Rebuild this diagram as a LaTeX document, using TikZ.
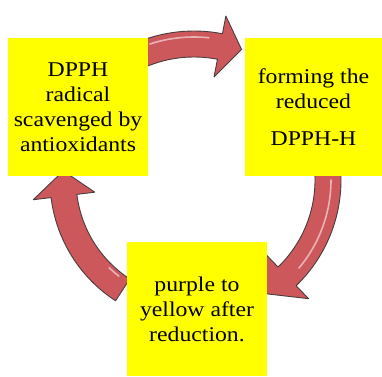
\documentclass[tikz,border=0pt]{standalone}
\usepackage{fontspec}
\setmainfont{Liberation Serif}
\newfontfamily\boxfont{Liberation Serif}[FakeStretch=1.13]
\usepackage{xcolor}
\usetikzlibrary{positioning}

\definecolor{arrowred}{RGB}{205,88,92}
\definecolor{arrowedge}{RGB}{72,62,62}
\definecolor{stepyellow}{RGB}{255,255,0}

\begin{document}
\begin{tikzpicture}[
  x=1pt, y=1pt,
  stepbox/.style={fill=stepyellow, inner sep=0pt,
                  minimum width=140pt, minimum height=138pt,
                  font=\boxfont\fontsize{21}{25}\selectfont, align=center},
  cycarrow/.style={fill=arrowred, draw=arrowedge, line width=0.9pt, line join=round},
  gloss/.style={draw=white, line width=1.6pt, opacity=0.55, line cap=round}
]
\useasboundingbox (0,0) rectangle (382,376);

% centre of the cycle
\coordinate (cyc) at (194,196);

% Curved arrows (drawn first, boxes cover their ends)
\begin{scope}[shift={(cyc)}]
  % top: box 1 -> box 2
  \draw[cycarrow] (114:149pt) arc[start angle=114, end angle=79, radius=149pt]
        -- (79:167pt) -- (70:139pt) -- (79:105pt) -- (79:123pt)
        arc[start angle=79, end angle=114, radius=123pt] -- cycle;
  \draw[gloss] (108:143pt) arc[start angle=108, end angle=84, radius=143pt];
  % right: box 2 -> box 3
  \draw[cycarrow] (5:147pt) arc[start angle=5, end angle=-46, radius=147pt]
        -- (-46:165pt) -- (-58:134pt) -- (-46:103pt) -- (-46:121pt)
        arc[start angle=-46, end angle=5, radius=121pt] -- cycle;
  \draw[gloss] (0:137pt) arc[start angle=0, end angle=-40, radius=137pt];
  % left: box 3 -> box 1
  \draw[cycarrow] (237:144pt) arc[start angle=237, end angle=187, radius=144pt]
        -- (187:162pt) -- (176:131pt) -- (187:100pt) -- (187:118pt)
        arc[start angle=187, end angle=237, radius=118pt] -- cycle;
  \draw[gloss] (232:122pt) arc[start angle=232, end angle=226, radius=122pt];
\end{scope}

% Three steps
\node[stepbox] (radical) at (78,269)
      {DPPH\\radical\\scavenged by\\antioxidants};
\node[stepbox, minimum width=137pt] (reduced) at (313.5,269)
      {forming the\\reduced\\[12pt]DPPH-H};
\node[stepbox, minimum height=134pt] (colour) at (197,67)
      {purple to\\yellow after\\reduction.};

\end{tikzpicture}
\end{document}
